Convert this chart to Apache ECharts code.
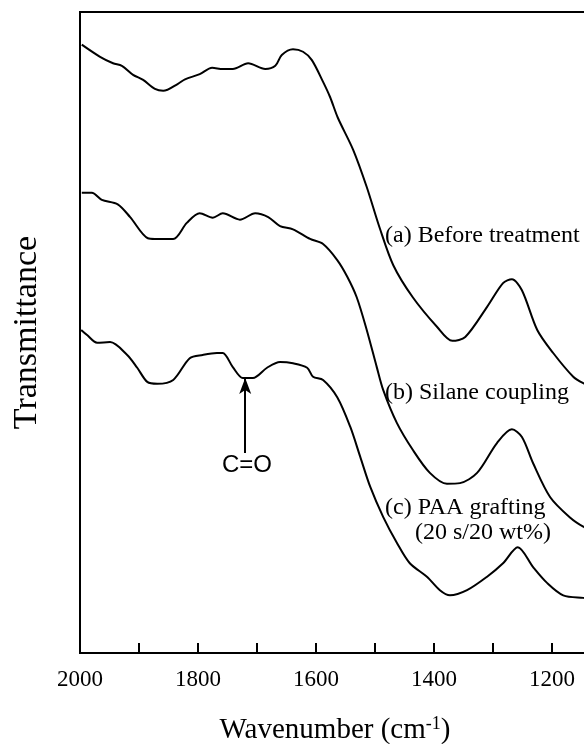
<!DOCTYPE html>
<html><head><meta charset="utf-8">
<script src="https://cdn.jsdelivr.net/npm/echarts@6/dist/echarts.min.js"></script>
<style>html,body{margin:0;padding:0;background:#fff}#c{width:584px;height:744px}</style>
</head><body><div id="c"></div>
<script>
// Wavenumber (cm-1) and transmittance (arbitrary, offset)
const wnA = [1997,1966,1944,1929,1910,1893,1873,1859,1834,1822,1797,1776,1758,1741,1715,1686,1669,1658,1639,1622,1607,1588,1576,1563,1537,1514,1492,1469,1436,1395,1369,1347,1310,1283,1268,1251,1225,1198,1164,1147,1120];
const tA  = [94.9,93.0,92.0,91.6,90.2,89.4,88.0,87.7,88.8,89.5,90.3,91.3,91.1,91.1,92.0,91.1,91.6,93.3,94.2,93.8,92.5,89.1,86.7,83.5,78.5,72.7,66.3,60.5,55.5,50.9,48.7,49.3,54.0,57.7,58.3,56.6,50.4,46.8,43.1,42.1,41.0];
const wnB = [1997,1980,1963,1936,1915,1885,1873,1842,1819,1797,1775,1758,1729,1703,1681,1661,1639,1610,1588,1564,1547,1531,1514,1497,1486,1463,1436,1407,1378,1356,1327,1293,1268,1251,1232,1203,1169,1147,1120];
const tB  = [71.8,71.8,70.7,70.0,68.0,64.7,64.6,64.6,67.1,68.6,67.9,68.6,67.6,68.6,68.0,66.6,66.1,64.6,63.8,61.3,58.7,55.5,50.4,44.6,41.0,35.9,31.7,28.1,26.4,26.5,28.1,32.8,34.9,33.7,29.6,24.3,21.1,19.7,18.5];
const wnC = [1998,1988,1971,1949,1920,1903,1886,1869,1842,1814,1792,1768,1758,1741,1724,1707,1683,1661,1639,1615,1605,1588,1564,1542,1525,1508,1486,1463,1441,1412,1390,1373,1344,1310,1283,1258,1232,1208,1181,1147,1120];
const tC  = [50.4,49.6,48.4,48.5,46.5,44.5,42.3,42.0,42.6,46.0,46.5,46.8,46.8,44.6,42.9,42.9,44.5,45.4,45.2,44.5,43.1,42.6,39.9,35.3,30.6,25.9,21.2,17.2,14.0,11.9,9.8,9.0,9.8,11.9,14.0,16.5,13.4,10.9,9.0,8.6,8.4];
const arrowWn = 1720, arrowFrom = 31.2, arrowTo = 42.9;
const xTicks = {min:1000, max:2000, step:100};

const serif = '"Liberation Serif","Times New Roman",serif';
const pairs = (x, y) => x.map((v, i) => [v, y[i]]);
const lineSeries = (x, y) => ({
  type:'line', data:pairs(x,y), smooth:0.3, symbol:'none',
  lineStyle:{color:'#000', width:2}
});

const chart = echarts.init(document.getElementById('c'));
chart.setOption({
  animation:false,
  backgroundColor:'#fff',
  grid:{left:80, top:12, width:590, height:641, outerBoundsMode:'none', containLabel:false,
    show:true, borderColor:'#000', borderWidth:2, backgroundColor:'transparent'},
  xAxis:{
    type:'value', inverse:true, min:xTicks.min, max:xTicks.max, interval:xTicks.step,
    axisLine:{lineStyle:{color:'#000', width:2}},
    axisTick:{inside:true, length:10, lineStyle:{color:'#000', width:2}},
    axisLabel:{interval:1, color:'#000', fontFamily:serif, fontSize:23, margin:15, hideOverlap:false,
      formatter: v => (v % 200 === 0 ? String(v) : '')},
    splitLine:{show:false}
  },
  yAxis:{
    type:'value', min:0, max:100,
    axisLine:{show:false}, axisTick:{show:false}, axisLabel:{show:false}, splitLine:{show:false},
    name:'Transmittance', nameLocation:'middle', nameGap:36,
    nameTextStyle:{color:'#000', fontFamily:serif, fontSize:34}
  },
  series:[
    lineSeries(wnA, tA),
    lineSeries(wnB, tB),
    Object.assign(lineSeries(wnC, tC), {
      markLine:{
        silent:true, symbol:['none','arrow'], symbolSize:[9,16], label:{show:false},
        lineStyle:{color:'#000', width:2, type:'solid'},
        data:[[{coord:[arrowWn, arrowFrom]},{coord:[arrowWn, arrowTo]}]]
      }
    })
  ],
  graphic:[
    {type:'text', x:385, y:236, style:{text:'(a) Before treatment', font:'24px '+serif, fill:'#000', align:'left', verticalAlign:'middle'}},
    {type:'text', x:385, y:393, style:{text:'(b) Silane coupling', font:'24px '+serif, fill:'#000', align:'left', verticalAlign:'middle'}},
    {type:'text', x:385, y:508, style:{text:'(c) PAA grafting', font:'24px '+serif, fill:'#000', align:'left', verticalAlign:'middle'}},
    {type:'text', x:415, y:533, style:{text:'(20 s/20 wt%)', font:'24px '+serif, fill:'#000', align:'left', verticalAlign:'middle'}},
    {type:'text', x:247, y:465, style:{text:'C=O', font:'24px "Liberation Sans",Arial,sans-serif', fill:'#000', align:'center', verticalAlign:'middle'}},
    {type:'text', x:335, y:730, style:{
      text:'Wavenumber (cm{sup|-1})', font:'29px '+serif, fill:'#000', align:'center', verticalAlign:'middle',
      rich:{sup:{fontSize:18, fontFamily:serif, fill:'#000', verticalAlign:'top', padding:[0,0,10,0]}}
    }}
  ]
});
</script></body></html>
